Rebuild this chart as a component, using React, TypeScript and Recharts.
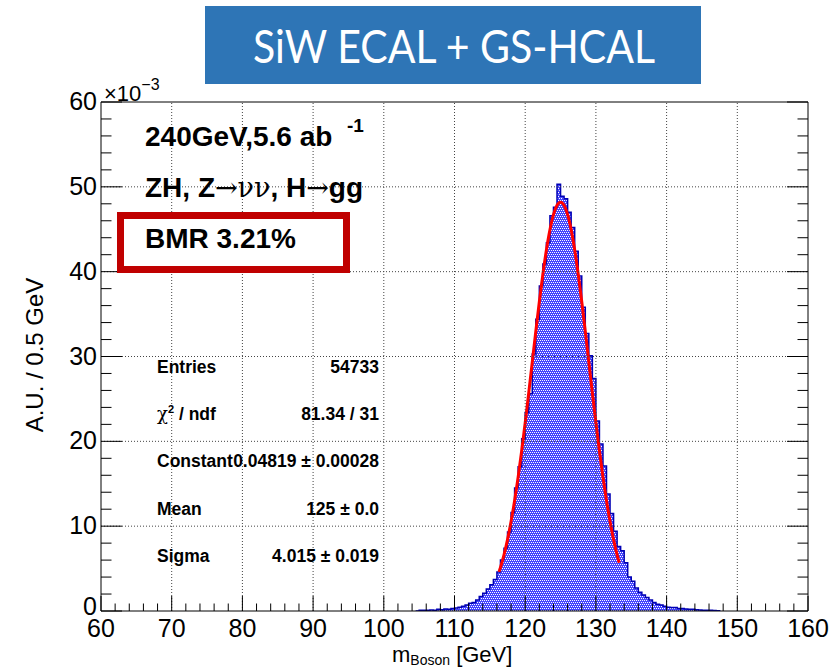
import React from "react";
import { ComposedChart, Area, Line, XAxis, YAxis, ReferenceLine } from "recharts";

const FONT = "'Liberation Sans', Arial, Helvetica, sans-serif";
const SERIF = "'DejaVu Serif', 'Liberation Serif', serif";

// histogram, 0.5 GeV bins starting at 104.5 GeV, values in units of 1e-3
const BIN_START = 104.5;
const BIN_WIDTH = 0.5;
const binValues = [
  0, 0.08, 0.1, 0.08, 0.12, 0.1, 0.2, 0.15, 0.25, 0.2,
  0.3, 0.35, 0.45, 0.55, 0.7, 0.9, 1.0, 1.3, 1.7, 2.1,
  2.6, 3.1, 3.7, 4.6, 6.0, 7.4, 9.3, 11.6, 14.5, 17.0,
  20.3, 23.4, 25.6, 30.3, 34.4, 38.3, 40.9, 43.4, 46.6, 47.6,
  50.3, 48.9, 48.6, 47.0, 45.2, 42.4, 39.5, 35.8, 32.7, 30.1,
  27.4, 22.4, 19.7, 17.1, 13.8, 11.5, 9.4, 7.6, 7.1, 5.7,
  4.0, 3.5, 2.7, 2.2, 1.9, 1.6, 1.3, 1.0, 0.8, 0.7,
  0.55, 0.45, 0.4, 0.4, 0.3, 0.3, 0.25, 0.2, 0.2, 0.15,
  0.12, 0.1, 0.1, 0.08, 0.05, 0.03,
];

// gaussian fit curve as drawn
const fitMass = [
  116.3, 116.5, 117, 117.5, 118, 118.5, 119, 119.5, 120, 120.5,
  121, 121.5, 122, 122.5, 123, 123.5, 124, 124.5, 125, 125.5,
  126, 126.5, 127, 127.5, 128, 128.5, 129, 129.5, 130, 130.5,
  131, 131.5, 132, 132.5, 133, 133.3,
];
const fitValues = [
  4.61, 5.13, 6.62, 8.42, 10.54, 13.0, 15.78, 18.86, 22.19, 25.71,
  29.34, 32.96, 36.45, 39.7, 42.57, 44.94, 46.72, 47.82, 48.19, 47.82,
  46.72, 44.94, 42.57, 39.7, 36.45, 32.96, 29.34, 25.71, 22.19, 18.86,
  15.78, 13.0, 10.54, 8.42, 6.62, 5.69,
];

const xGrid = [70, 80, 90, 100, 110, 120, 130, 140, 150];
const yGrid = [10, 20, 30, 40, 50];
const xTicks = Array.from({ length: 51 }, (_, i) => 60 + i * 2);
const yTicks = Array.from({ length: 31 }, (_, i) => i * 2);

const statNames = ["Entries", "chi2", "Constant", "Mean", "Sigma"];
const statValues = ["54733", "81.34 / 31", "0.04819 \u00b1 0.00028", "125 \u00b1 0.0", "4.015 \u00b1 0.019"];

const histData = [
  ...binValues.map((v, i) => ({ m: BIN_START + i * BIN_WIDTH, h: v })),
  { m: BIN_START + binValues.length * BIN_WIDTH, h: 0 },
];
const fitData = fitMass.map((m, i) => ({ m, f: fitValues[i] }));

function BottomTick(props: any) {
  const { x, y, payload } = props;
  const major = payload.value % 10 === 0;
  return (
    <g>
      <line x1={x} x2={x} y1={y} y2={y - (major ? 15 : 7.5)} stroke="#000" />
      {major && (
        <text x={x} y={y + 26} textAnchor="middle" fontSize={25} fontFamily={FONT} fill="#000">
          {payload.value}
        </text>
      )}
    </g>
  );
}

function TopTick(props: any) {
  const { x, y, payload } = props;
  const major = payload.value % 10 === 0;
  return <line x1={x} x2={x} y1={y} y2={y + (major ? 15 : 7.5)} stroke="#000" />;
}

function LeftTick(props: any) {
  const { x, y, payload } = props;
  const major = payload.value % 10 === 0;
  return (
    <g>
      <line x1={x} x2={x + (major ? 21 : 10.5)} y1={y} y2={y} stroke="#000" />
      {major && (
        <text
          x={x - 4}
          y={payload.value === 0 ? y + 4 : y + 8}
          textAnchor="end"
          fontSize={25}
          fontFamily={FONT}
          fill="#000"
        >
          {payload.value}
        </text>
      )}
    </g>
  );
}

function RightTick(props: any) {
  const { x, y, payload } = props;
  const major = payload.value % 10 === 0;
  return <line x1={x} x2={x - (major ? 21 : 10.5)} y1={y} y2={y} stroke="#000" />;
}

function StatName({ name, y }: { name: string; y: number }) {
  if (name === "chi2") {
    return (
      <text x={157} y={y} fontSize={17.5} fontFamily={FONT} fontWeight="bold">
        <tspan fontFamily={SERIF} fontWeight="normal" fontSize={18}>{"\u03c7"}</tspan>
        <tspan dy={-7} fontSize={11}>2</tspan>
        <tspan dy={7}>{" / ndf"}</tspan>
      </text>
    );
  }
  return (
    <text x={157} y={y} fontSize={17.5} fontFamily={FONT} fontWeight="bold">
      {name}
    </text>
  );
}

export default function App() {
  return (
    <div style={{ position: "absolute", left: 0, top: 0, width: 833, height: 670, background: "#fff" }}>
      <svg width={0} height={0} style={{ position: "absolute" }}>
        <defs>
          <pattern id="rootHatch" width="4" height="4" patternUnits="userSpaceOnUse">
            <rect width="4" height="4" fill="#4646ff" />
            <rect x="0" y="0" width="1" height="1" fill="#ffffff" />
            <rect x="2" y="0" width="1" height="1" fill="#ffffff" />
            <rect x="1" y="2" width="1" height="1" fill="#ffffff" />
            <rect x="3" y="2" width="1" height="1" fill="#ffffff" />
          </pattern>
        </defs>
      </svg>
      <ComposedChart width={833} height={670} margin={{ top: 92, right: 15, bottom: 9, left: 41 }}>
        <XAxis
          dataKey="m"
          type="number"
          domain={[60, 160]}
          ticks={xTicks}
          interval={0}
          allowDataOverflow
          height={50}
          tickSize={0}
          tickMargin={0}
          tickLine={false}
          axisLine={{ stroke: "#000" }}
          tick={(p: any) => <BottomTick {...p} />}
        />
        <XAxis
          xAxisId="top"
          orientation="top"
          type="number"
          domain={[60, 160]}
          ticks={xTicks}
          interval={0}
          allowDataOverflow
          height={10}
          tickSize={0}
          tickMargin={0}
          tickLine={false}
          axisLine={{ stroke: "#000" }}
          tick={(p: any) => <TopTick {...p} />}
        />
        <YAxis
          type="number"
          domain={[0, 60]}
          ticks={yTicks}
          interval={0}
          allowDataOverflow
          width={60}
          tickSize={0}
          tickMargin={0}
          tickLine={false}
          axisLine={{ stroke: "#000" }}
          tick={(p: any) => <LeftTick {...p} />}
        />
        <YAxis
          yAxisId="right"
          orientation="right"
          type="number"
          domain={[0, 60]}
          ticks={yTicks}
          interval={0}
          allowDataOverflow
          width={10}
          tickSize={0}
          tickMargin={0}
          tickLine={false}
          axisLine={{ stroke: "#000" }}
          tick={(p: any) => <RightTick {...p} />}
        />
        <Area
          data={histData}
          dataKey="h"
          type="stepAfter"
          fill="url(#rootHatch)"
          fillOpacity={1}
          stroke="#0000b4"
          strokeWidth={1.5}
          dot={false}
          activeDot={false}
          isAnimationActive={false}
        />
        <Line
          data={fitData}
          dataKey="f"
          type="monotone"
          stroke="#ff0000"
          strokeWidth={3}
          dot={false}
          activeDot={false}
          isAnimationActive={false}
        />
        {xGrid.map((v) => (
          <ReferenceLine key={"x" + v} x={v} stroke="#444" strokeDasharray="1 2" />
        ))}
        {yGrid.map((v) => (
          <ReferenceLine key={"y" + v} y={v} stroke="#444" strokeDasharray="1 2" />
        ))}
      </ComposedChart>

      <svg
        width={833}
        height={670}
        style={{ position: "absolute", left: 0, top: 0, pointerEvents: "none" }}
      >
        <rect x={205} y={6} width={496} height={78} fill="#2e75b6" />
        <text
          x={454}
          y={63}
          textAnchor="middle"
          fontSize={46}
          fontFamily="Lato, 'Open Sans', sans-serif"
          fill="#fff"
          textLength={402}
          lengthAdjust="spacingAndGlyphs"
        >
          SiW ECAL + GS-HCAL
        </text>

        <text x={104} y={101} fontSize={22} fontFamily={FONT}>
          {"\u00d710"}
          <tspan dy={-11} fontSize={16}>{"\u22123"}</tspan>
        </text>

        <text x={145} y={146} fontSize={28} fontFamily={FONT} fontWeight="bold">
          240GeV,5.6 ab
          <tspan x={347} y={132} fontSize={19}>-1</tspan>
        </text>
        <text x={145} y={197} fontSize={28} fontFamily={FONT} fontWeight="bold">
          ZH, Z
          <tspan fontFamily={SERIF} fontWeight="normal" fontSize={27}>{"\u2192\u03bd\u03bd"}</tspan>
          , H
          <tspan fontFamily={SERIF} fontWeight="normal" fontSize={27}>{"\u2192"}</tspan>
          gg
        </text>
        <rect x={120.5} y={215.5} width={226} height={54} fill="#fff" stroke="#c00000" strokeWidth={7} />
        <text x={145} y={248} fontSize={28} fontFamily={FONT} fontWeight="bold">
          BMR 3.21%
        </text>

        {statNames.map((n, i) => (
          <g key={n}>
            <StatName name={n} y={373 + i * 47.2} />
            <text x={379} y={373 + i * 47.2} textAnchor="end" fontSize={17.5} fontFamily={FONT} fontWeight="bold">
              {statValues[i]}
            </text>
          </g>
        ))}

        <text
          transform="translate(43,355) rotate(-90)"
          textAnchor="middle"
          fontSize={24}
          fontFamily={FONT}
        >
          A.U. / 0.5 GeV
        </text>
        <text x={392} y={662} fontSize={22} fontFamily={FONT}>
          m
          <tspan dy={3} fontSize={14}>Boson</tspan>
          <tspan dy={-3}>{" [GeV]"}</tspan>
        </text>
      </svg>
    </div>
  );
}
